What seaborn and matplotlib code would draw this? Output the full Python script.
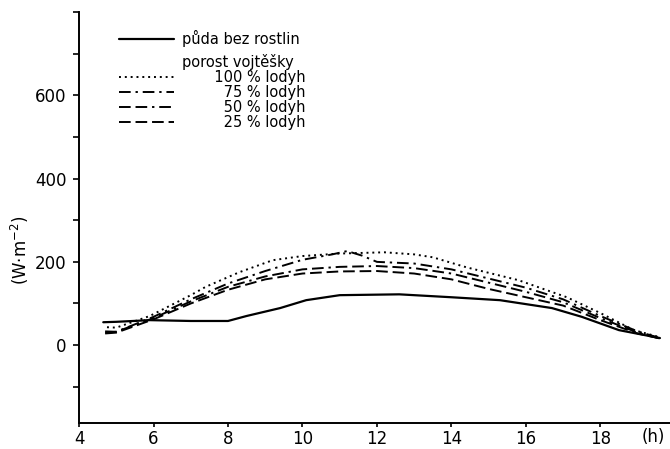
import numpy as np
import pandas as pd
import matplotlib
matplotlib.use("Agg")
import matplotlib.pyplot as plt
import seaborn as sns
from matplotlib.lines import Line2D

# hours and radiation (W/m2)
x_puda = [4.65, 5.0, 5.9, 7.0, 8.0, 8.5, 9.4, 10.1, 11.0, 12.6, 14.0, 15.3, 16.7, 17.5, 18.5, 19.6]
y_puda = [55, 56, 60, 58, 58, 70, 89, 108, 120, 122, 115, 108, 89, 68, 36, 17]

x_100 = [4.75, 5.0, 5.9, 7.0, 7.4, 8.3, 9.2, 10.0, 11.0, 12.2, 13.0, 13.5, 14.4, 15.8, 17.1, 18.0, 18.9, 19.6]
y_100 = [43, 42, 70, 120, 140, 175, 204, 214, 220, 223, 218, 211, 187, 156, 115, 77, 36, 19]

x_75 = [4.7, 5.0, 6.0, 7.0, 8.0, 9.0, 10.0, 10.8, 11.2, 11.6, 12.0, 13.0, 14.0, 15.0, 16.0, 17.0, 18.0, 19.0, 19.6]
y_75 = [33, 32, 68, 110, 148, 178, 205, 218, 226, 215, 200, 196, 182, 160, 138, 110, 70, 33, 17]

x_50 = [4.7, 5.0, 6.0, 7.0, 8.0, 9.0, 10.0, 11.0, 12.0, 13.0, 14.0, 15.0, 16.0, 17.0, 18.0, 19.0, 19.6]
y_50 = [30, 32, 65, 105, 140, 165, 182, 188, 190, 185, 172, 150, 128, 103, 65, 30, 16]

x_25 = [4.7, 5.0, 6.0, 7.0, 8.0, 9.0, 10.0, 11.0, 12.0, 13.0, 14.0, 15.0, 16.0, 17.0, 18.0, 19.0, 19.6]
y_25 = [28, 30, 62, 100, 133, 158, 172, 177, 178, 172, 158, 135, 115, 95, 60, 28, 16]

labels = ["půda bez rostlin", "       100 % lodyh", "         75 % lodyh",
          "         50 % lodyh", "         25 % lodyh"]

sns.set_style("ticks")
plt.rcParams['font.family'] = ['DejaVu Sans']
plt.rcParams['text.color'] = 'black'
plt.rcParams['axes.labelcolor'] = 'black'

fig = plt.figure(figsize=(6.7, 4.49), dpi=100)
ax = fig.add_axes([0.118, 0.058, 0.882, 0.915])

lw = 1.4
sns.lineplot(x=x_puda, y=y_puda, ax=ax, color="black", lw=1.6, sort=False)
sns.lineplot(x=x_100, y=y_100, ax=ax, color="black", lw=lw, linestyle=(0, (1, 2)), sort=False)
sns.lineplot(x=x_75, y=y_75, ax=ax, color="black", lw=lw, linestyle=(0, (6, 2.5, 1.2, 2.5)), sort=False)
sns.lineplot(x=x_50, y=y_50, ax=ax, color="black", lw=lw, linestyle=(0, (6, 2.5, 6, 2.5, 1.2, 2.5)), sort=False)
sns.lineplot(x=x_25, y=y_25, ax=ax, color="black", lw=lw, linestyle=(0, (6, 2.5)), sort=False)

ax.set_xlim(4.1, 19.87)
ax.set_ylim(-187, 800)
ax.set_xticks(np.arange(4, 19, 2))
ax.set_yticks([0, 200, 400, 600])
ax.set_yticks([-100, 100, 300, 500, 700, 800], minor=True)
ax.tick_params(axis="both", which="both", direction="out", length=4, width=1.2,
               colors="black", labelcolor="black")
ax.tick_params(axis="y", labelsize=12, pad=5)
ax.tick_params(axis="x", labelsize=12, pad=2, length=3)
sns.despine(ax=ax)
for s in ["left", "bottom"]:
    ax.spines[s].set_linewidth(1.4)
    ax.spines[s].set_color("black")

ax.set_xlabel("(h)", fontsize=12)
ax.xaxis.set_label_coords(0.972, -0.012)
ax.xaxis.label.set_va("top")
ax.set_ylabel("(W·m$^{-2}$)", fontsize=12)
ax.yaxis.set_label_coords(-0.082, 0.42)

lines = ax.get_lines()
leg1 = ax.legend([lines[0]], [labels[0]], loc="upper left", bbox_to_anchor=(0.055, 0.975),
                 frameon=False, fontsize=10.5, handlelength=3.8, handletextpad=0.5,
                 borderpad=0, labelcolor="black")
ax.add_artist(leg1)
blank = Line2D([], [], color="none")
ax.legend([blank] + lines[1:5], ["porost vojtěšky"] + labels[1:], loc="upper left",
          bbox_to_anchor=(0.055, 0.915), frameon=False, fontsize=10.5, handlelength=3.8,
          handletextpad=0.5, borderpad=0, labelspacing=0.0, labelcolor="black")

fig.savefig("out.png", dpi=100)
